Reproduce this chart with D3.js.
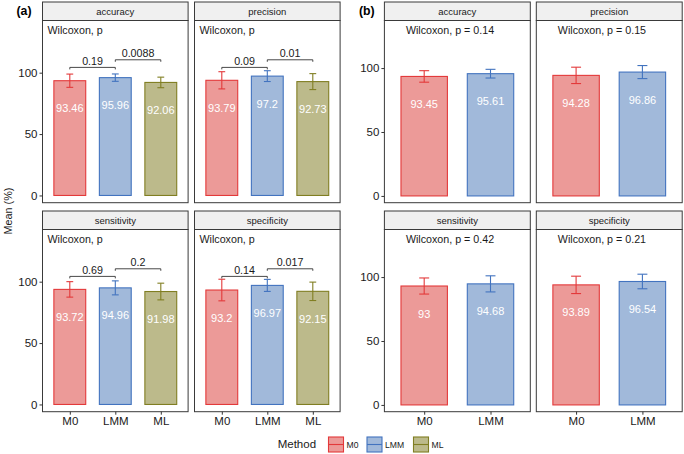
<!DOCTYPE html>
<html><head><meta charset="utf-8">
<script src="https://cdn.jsdelivr.net/npm/d3@7"></script>
<style>body{margin:0;background:#fff} svg{display:block;font-family:"Liberation Sans",Arial,sans-serif}</style>
</head><body><svg id="c" width="684" height="454"></svg>
<script>
const metrics = ["accuracy","precision","sensitivity","specificity"];
const methodsA = ["M0","LMM","ML"];
const methodsB = ["M0","LMM"];
const meansA = [[93.46,95.96,92.06],[93.79,97.2,92.73],[93.72,94.96,91.98],[93.2,96.97,92.15]];
const sdA = [[5.4,3.0,4.3],[7.0,4.4,6.5],[6.3,5.7,6.8],[8.8,4.9,7.5]];
const pPairsA = [["0.19","0.0088"],["0.09","0.01"],["0.69","0.2"],["0.14","0.017"]];
const bracketY = [104.3, 110.5];
const meansB = [[93.45,95.61],[94.28,96.86],[93,94.68],[93.89,96.54]];
const sdB = [[4.5,3.4],[6.4,5.1],[6.3,6.3],[6.8,5.7]];
const pB = ["0.14","0.15","0.42","0.21"];
const yTicks = [0,50,100];
const fills = {M0:"#ec9a98", LMM:"#a1b9da", ML:"#bcba8b"};
const strokes = {M0:"#e3393a", LMM:"#4273bf", ML:"#807e22"};

const svg = d3.select("#c");
svg.append("rect").attr("width",684).attr("height",454).attr("fill","#fff");
const rows = [[20.5,202.7],[229.5,411.7]];
const stripH = 18.5;
const border = "#3a3a3a";

function drawGroup(cfg){
  metrics.forEach((m,k)=>{
    const col = k%2, row = Math.floor(k/2);
    const x0 = cfg.colX[col], w = cfg.width;
    const [top,bot] = rows[row];
    const n = cfg.methods.length;
    const x = d3.scaleLinear().domain([0.4, n+0.6]).range([x0, x0+w]);
    const unit = x(2)-x(1);
    const y = d3.scaleLinear().domain(cfg.yDomain).range([bot, top]);
    const g = svg.append("g");
    g.append("rect").attr("x",x0).attr("y",top-stripH).attr("width",w).attr("height",stripH)
      .attr("fill","#f0f0f0").attr("stroke",border).attr("stroke-width",1);
    g.append("text").attr("x",x0+w/2).attr("y",top-stripH/2+3.3).attr("text-anchor","middle")
      .attr("font-size",9.5).attr("fill","#1a1a1a").text(m);
    const means = cfg.means[k], sds = cfg.sds[k];
    cfg.methods.forEach((meth,i)=>{
      const cx = x(i+1);
      g.append("rect").attr("x",cx-0.35*unit).attr("width",0.7*unit)
        .attr("y",y(means[i])).attr("height",y(0)-y(means[i]))
        .attr("fill",fills[meth]).attr("stroke",strokes[meth]).attr("stroke-width",1.1);
      const lo = y(means[i]-sds[i]), hi = y(means[i]+sds[i]);
      const eb = g.append("g").attr("stroke",strokes[meth]).attr("stroke-width",1.1);
      eb.append("line").attr("x1",cx).attr("x2",cx).attr("y1",lo).attr("y2",hi);
      eb.append("line").attr("x1",cx-0.075*unit).attr("x2",cx+0.075*unit).attr("y1",lo).attr("y2",lo);
      eb.append("line").attr("x1",cx-0.075*unit).attr("x2",cx+0.075*unit).attr("y1",hi).attr("y2",hi);
      g.append("text").attr("x",cx).attr("y",y(means[i])+31.5).attr("text-anchor","middle")
        .attr("font-size",11).attr("fill","#fff").text(String(means[i]));
    });
    cfg.stats(g,k,x,y);
    g.append("rect").attr("x",x0).attr("y",top).attr("width",w).attr("height",bot-top)
      .attr("fill","none").attr("stroke",border).attr("stroke-width",1);
    if(col===0){
      const ax = g.append("g").attr("transform",`translate(${x0},0)`)
        .call(d3.axisLeft(y).tickValues(yTicks).tickSize(3).tickPadding(2));
      ax.select(".domain").remove();
      ax.selectAll("text").attr("font-size",11.5).attr("fill","#1a1a1a").attr("font-family",null);
      ax.selectAll("line").attr("stroke","#333");
    }
    if(row===1){
      const ax = g.append("g").attr("transform",`translate(0,${bot})`)
        .call(d3.axisBottom(x).tickValues(d3.range(1,n+1)).tickFormat(i=>cfg.methods[i-1]).tickSize(3).tickPadding(2));
      ax.select(".domain").remove();
      ax.selectAll("text").attr("font-size",11.5).attr("fill","#1a1a1a").attr("font-family",null);
      ax.selectAll("line").attr("stroke","#333");
    }
  });
}

drawGroup({
  colX:[42.5,194.5], width:145.6, methods:methodsA, means:meansA, sds:sdA, yDomain:[-5.9,142.5],
  stats:(g,k,x,y)=>{
    g.append("text").attr("x",x(0.4)+5).attr("y",y(134.7)+4).attr("font-size",10.7).attr("fill","#1a1a1a").text("Wilcoxon, p");
    pPairsA[k].forEach((p,j)=>{
      const x1 = x(j+1), x2 = x(j+2), yy = y(bracketY[j]);
      g.append("path").attr("d",`M${x1},${yy+2}V${yy}H${x2}V${yy+2}`).attr("fill","none")
        .attr("stroke","#333").attr("stroke-width",0.9);
      g.append("text").attr("x",(x1+x2)/2).attr("y",yy-2.5).attr("text-anchor","middle")
        .attr("font-size",10.7).attr("fill","#1a1a1a").text(p);
    });
  }
});
drawGroup({
  colX:[384.4,536.3], width:145.9, methods:methodsB, means:meansB, sds:sdB, yDomain:[-5.3,137.2],
  stats:(g,k,x,y)=>{
    g.append("text").attr("x",x(0.4)+21.5).attr("y",y(129.8)+4).attr("font-size",10.7).attr("fill","#1a1a1a")
      .text("Wilcoxon, p = "+pB[k]);
  }
});

svg.append("text").attr("x",16.5).attr("y",14.5).attr("font-size",12.3).attr("font-weight","bold").text("(a)");
svg.append("text").attr("x",359).attr("y",14.5).attr("font-size",12.3).attr("font-weight","bold").text("(b)");
svg.append("text").attr("transform","translate(11.5,211) rotate(-90)").attr("text-anchor","middle")
  .attr("font-size",10.8).attr("fill","#1a1a1a").text("Mean (%)");
const lg = svg.append("g");
lg.append("text").attr("x",277.7).attr("y",448).attr("font-size",11.5).attr("fill","#1a1a1a").text("Method");
const keyX = [328, 366.5, 413];
methodsA.forEach((meth,i)=>{
  const kx = keyX[i];
  lg.append("rect").attr("x",kx+0.5).attr("y",437).attr("width",15).attr("height",15)
    .attr("fill",fills[meth]).attr("stroke",strokes[meth]).attr("stroke-width",1.1);
  lg.append("line").attr("x1",kx+0.5).attr("x2",kx+15.5).attr("y1",444.5).attr("y2",444.5)
    .attr("stroke",strokes[meth]).attr("stroke-width",1.1);
  lg.append("text").attr("x",kx+18.5).attr("y",447.8).attr("font-size",8.6).attr("fill","#1a1a1a").text(meth);
});
</script></body></html>
